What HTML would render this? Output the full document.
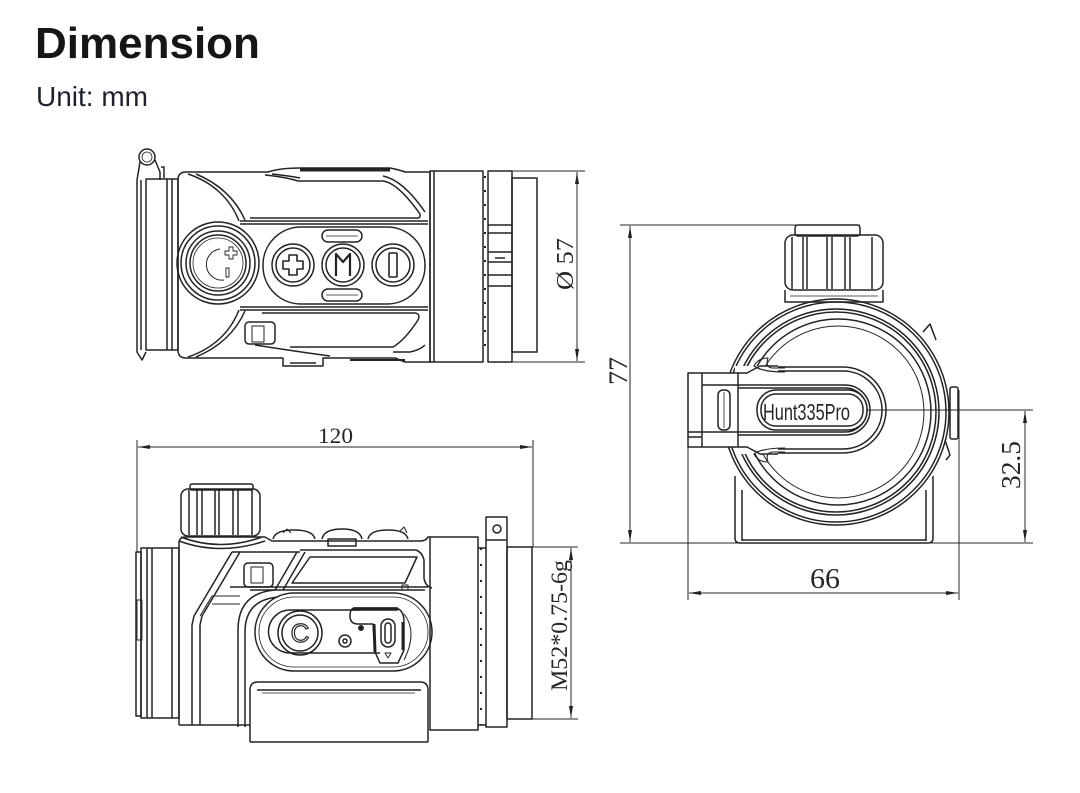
<!DOCTYPE html>
<html><head><meta charset="utf-8"><style>
html,body{margin:0;padding:0;background:#fff;}
body{width:1080px;height:793px;overflow:hidden;position:relative;font-family:"Liberation Sans",sans-serif;}
.t1{position:absolute;left:35px;top:14px;font-size:44px;font-weight:bold;color:#161616;line-height:60px;}
.t2{position:absolute;left:36px;top:80px;font-size:28px;color:#1e2230;line-height:34px;}
svg{position:absolute;left:0;top:0;}
</style></head><body>
<div class="t1">Dimension</div>
<div class="t2">Unit: mm</div>
<svg width="1080" height="793" viewBox="0 0 1080 793" xmlns="http://www.w3.org/2000/svg">
<defs>
<marker id="ar" viewBox="0 0 12 4" refX="12" refY="2" markerWidth="12" markerHeight="4" orient="auto-start-reverse" markerUnits="userSpaceOnUse"><path d="M0,0 L12,2 L0,4 z" fill="#222"/></marker>
</defs>
<g fill="none" stroke="#232323" stroke-width="1.5" stroke-linejoin="round">
<!-- ================= VIEW A (top) ================= -->
<circle cx="147" cy="157" r="8"/>
<circle cx="147" cy="157" r="5" stroke-width="0.8"/>
<path d="M140,162 L137,180 L137,352 L142,360 L146,352"/>
<path d="M141,180 L141,350"/>
<path d="M155,160 L160,172 L160,180"/>
<path d="M161,167 L164,167 L164,178"/>
<rect x="146" y="179" width="32" height="171"/>
<line x1="167" y1="179" x2="167" y2="350"/>
<line x1="172" y1="179" x2="172" y2="350"/>
<!-- body -->
<path d="M178,350 L178,180 Q178,172 186,172 L268,172 Q280,168 300,168 L390,168 Q400,170 405,172 L430,172 L430,362 L405,362 L395,358 L323,358 L323,366 L283,366 L283,358 L186,358 Q178,358 178,350 Z"/>
<path d="M300,170 L390,170" stroke-width="3"/>
<line x1="290" y1="363" x2="316" y2="363"/>
<path d="M350,360 L405,360" stroke-width="2"/>
<!-- upper fairing and groove -->
<path d="M188,174 C212,182 230,198 239,221"/>
<path d="M196,174 C220,184 236,200 245,220"/>
<path d="M265,175 Q285,177 298,181 L383,181 Q398,183 420,214 Q421,219 415,218 L250,218"/>
<path d="M272,174 Q290,176 300,178"/>
<path d="M383,176 Q403,180 425,212"/>
<line x1="240" y1="221" x2="428" y2="221"/>
<line x1="240" y1="224" x2="428" y2="224"/>
<!-- lower fairing and groove -->
<path d="M188,357 C212,349 230,333 239,310"/>
<path d="M196,357 C220,347 236,331 245,311"/>
<line x1="240" y1="307" x2="428" y2="307"/>
<line x1="240" y1="310" x2="428" y2="310"/>
<path d="M262,313 L415,313 Q421,314 418,320 Q405,340 393,347 L290,347"/>
<path d="M255,345 Q300,352 330,356"/>
<path d="M393,352 L410,352 Q420,350 425,345"/>
<rect x="245" y="322" width="30" height="22" rx="4"/>
<rect x="252" y="326" width="12" height="16" stroke-width="1"/>
<!-- buttons oval -->
<rect x="263" y="227" width="162" height="77" rx="38"/>
<rect x="322" y="230" width="40" height="12" rx="6"/>
<line x1="326" y1="236" x2="358" y2="236" stroke-width="0.8"/>
<rect x="322" y="289" width="40" height="12" rx="6"/>
<line x1="326" y1="295" x2="358" y2="295" stroke-width="0.8"/>
<circle cx="293" cy="265" r="21"/><circle cx="293" cy="265" r="17"/>
<circle cx="343" cy="265" r="21"/><circle cx="343" cy="265" r="17"/>
<circle cx="393" cy="265" r="21"/><circle cx="393" cy="265" r="17"/>
<path d="M289,255 h8 v6 h6 v8 h-6 v6 h-8 v-6 h-6 v-8 h6 z" stroke-width="1.6"/>
<path d="M336,276 v-22 l7,8 l7,-8 v22" stroke-width="2.2"/>
<rect x="389" y="253" width="8" height="24" rx="1" stroke-width="1.6"/>
<!-- big knob -->
<circle cx="218" cy="263" r="41"/>
<circle cx="218" cy="263" r="37"/>
<circle cx="218" cy="263" r="32"/>
<circle cx="218" cy="263" r="28"/>
<circle cx="218" cy="263" r="25" stroke-width="0.8"/>
<path d="M220,249 A15,15 0 1 0 224,280" stroke-width="1"/>
<path d="M225,251 h4 v-4 h4 v4 h4 v4 h-4 v4 h-4 v-4 h-4 z" stroke-width="0.9"/>
<rect x="226" y="268" width="3" height="9" stroke-width="0.9"/>
<!-- objective / ring / lens -->
<rect x="430" y="171" width="53" height="191"/>
<line x1="434" y1="171" x2="434" y2="362"/>
<line x1="485" y1="176" x2="485" y2="357" stroke-dasharray="2,12" stroke-width="2"/>
<rect x="488" y="171" width="24" height="191"/>
<line x1="488" y1="225" x2="512" y2="225"/>
<line x1="488" y1="233" x2="512" y2="233"/>
<line x1="488" y1="252" x2="512" y2="252"/>
<line x1="495" y1="258" x2="505" y2="258"/>
<line x1="488" y1="262" x2="512" y2="262"/>
<line x1="488" y1="275" x2="512" y2="275"/>
<line x1="488" y1="286" x2="512" y2="286"/>
<rect x="512" y="178" width="25" height="174"/>
</g>
<!-- dimension A -->
<g stroke="#262626" stroke-width="1" fill="none">
<line x1="512" y1="171" x2="585" y2="171"/>
<line x1="512" y1="362" x2="585" y2="362"/>
<line x1="577" y1="172" x2="577" y2="361" marker-start="url(#ar)" marker-end="url(#ar)"/>
</g>
<text transform="translate(573,290) rotate(-90)" font-family="Liberation Serif, serif" font-size="24" fill="#262626" textLength="52" lengthAdjust="spacingAndGlyphs">Ø 57</text>

<g fill="none" stroke="#232323" stroke-width="1.5" stroke-linejoin="round">
<!-- ================= VIEW B (side) ================= -->
<rect x="136" y="552" width="5" height="164"/>
<rect x="141" y="548" width="38" height="170"/>
<line x1="147" y1="548" x2="147" y2="718"/>
<line x1="152" y1="548" x2="152" y2="718"/>
<line x1="172" y1="548" x2="172" y2="718"/>
<rect x="137" y="600" width="5" height="40" stroke-width="0.9"/>
<!-- knob -->
<rect x="190" y="484" width="63" height="6" rx="2"/>
<rect x="181" y="489" width="79" height="47" rx="7"/>
<line x1="189" y1="490" x2="189" y2="535"/>
<line x1="197" y1="490" x2="197" y2="535"/>
<line x1="202" y1="490" x2="202" y2="535"/>
<line x1="215" y1="490" x2="215" y2="535"/>
<line x1="219" y1="490" x2="219" y2="535"/>
<line x1="233" y1="490" x2="233" y2="535"/>
<line x1="238" y1="490" x2="238" y2="535"/>
<line x1="252" y1="490" x2="252" y2="535"/>
<path d="M181,537 Q220,552 262,537"/>
<path d="M179,541 Q220,556 265,541"/>
<!-- body -->
<path d="M179,725 L179,543 Q179,537 186,537 L265,537 L272,541 L420,541 Q426,541 428,537 L430,537"/>
<path d="M179,725 L250,725"/>
<rect x="430" y="537" width="48" height="193"/>
<!-- top buttons -->
<path d="M273,539 Q275,530 294,530 Q313,530 315,539"/>
<path d="M283,533 L287,529 L291,533" stroke-width="1"/>
<path d="M322,539 Q324,529 342,529 Q360,529 362,539"/>
<rect x="328" y="539" width="28" height="7"/>
<path d="M368,539 Q370,530 388,530 Q406,530 408,539"/>
<path d="M400,531 L404,527 L407,533" stroke-width="1"/>
<!-- rails -->
<path d="M232,552 L194,616 L192,625 L192,725"/>
<path d="M240,552 L202,616 L200,625 L200,725"/>
<path d="M200,616 L212,596 L240,596" stroke-width="1"/>
<line x1="212" y1="604" x2="240" y2="604" stroke-width="1"/>
<line x1="232" y1="552" x2="300" y2="552"/>
<path d="M297,552 L275,590"/>
<path d="M305,552 L283,590"/>
<!-- window -->
<path d="M310,557 L417,557 L405,583 L292,583 Z"/>
<path d="M300,550 L416,550 Q422,552 424,560 L424,578 Q425,586 432,588"/>
<line x1="230" y1="587" x2="428" y2="587"/>
<line x1="250" y1="590" x2="425" y2="590"/>
<rect x="402" y="585" width="6" height="5" stroke-width="1"/>
<rect x="244" y="563" width="29" height="24" rx="4"/>
<rect x="251" y="567" width="12" height="16" stroke-width="1"/>
<!-- panel -->
<path d="M238,727 L238,630 Q238,593 275,590"/>
<path d="M245,727 L245,632 Q245,600 278,597"/>
<rect x="255" y="593" width="177" height="78" rx="39"/>
<rect x="259" y="597" width="169" height="70" rx="35" stroke-width="0.8"/>
<path d="M360,610 L290,610 A21.5,21.5 0 0 0 290,653 L380,653"/>
<circle cx="300" cy="633" r="22"/>
<circle cx="300" cy="633" r="18"/>
<circle cx="345" cy="641" r="6"/>
<circle cx="345" cy="641" r="2"/>
<circle cx="361" cy="628" r="2.2" fill="#232323"/>
<path d="M355,608 L396,608 Q404,610 404,622 L404,650 L398,663 L380,663 L375,652 L373,624 L358,624 Q350,624 350,616 Q350,608 355,608 Z"/>
<path d="M353,609 L398,609" stroke-width="3.5"/>
<line x1="374" y1="624" x2="375" y2="652" stroke-width="3"/>
<line x1="403" y1="622" x2="403" y2="650" stroke-width="3"/>
<rect x="381" y="619" width="14" height="28" rx="7"/>
<rect x="385" y="623" width="6" height="20" rx="3"/>
<path d="M385,653 L391,653 L388,658 Z" stroke-width="0.9"/>
<path d="M404,614 Q418,632 404,660" stroke-width="1"/>
<!-- battery -->
<path d="M250,742 L250,690 Q250,682 258,682 L420,682 Q428,682 428,690 L428,742"/>
<line x1="257" y1="690" x2="421" y2="690"/>
<line x1="262" y1="693" x2="415" y2="693" stroke-width="0.8"/>
<line x1="250" y1="742" x2="428" y2="742"/>
<!-- front -->
<line x1="481" y1="548" x2="481" y2="725" stroke-dasharray="2,14" stroke-width="2"/>
<line x1="478" y1="548" x2="486" y2="548"/>
<line x1="478" y1="725" x2="486" y2="725"/>
<rect x="486" y="517" width="21" height="210"/>
<line x1="486" y1="540" x2="507" y2="540"/>
<circle cx="497" cy="529" r="4"/>
<rect x="507" y="547" width="25" height="172"/>
</g>
<text x="300" y="642" text-anchor="middle" font-family="Liberation Sans, sans-serif" font-size="26" fill="#fff" stroke="#232323" stroke-width="1.2">C</text>
<!-- dims B -->
<g stroke="#262626" stroke-width="1" fill="none">
<line x1="137" y1="440" x2="137" y2="552"/>
<line x1="533" y1="440" x2="533" y2="547"/>
<line x1="138" y1="447" x2="532" y2="447" marker-start="url(#ar)" marker-end="url(#ar)"/>
<line x1="532" y1="547" x2="578" y2="547"/>
<line x1="532" y1="719" x2="578" y2="719"/>
<line x1="571" y1="548" x2="571" y2="718" marker-start="url(#ar)" marker-end="url(#ar)"/>
</g>
<text x="318" y="443" font-family="Liberation Serif, serif" font-size="22" fill="#262626" textLength="35" lengthAdjust="spacingAndGlyphs">120</text>
<text transform="translate(567,691) rotate(-90)" font-family="Liberation Serif, serif" font-size="23" fill="#262626" textLength="131" lengthAdjust="spacingAndGlyphs">M52*0.75-6g</text>

<g fill="none" stroke="#232323" stroke-width="1.5" stroke-linejoin="round">
<!-- ================= VIEW C (front) ================= -->
<rect x="795" y="225" width="65" height="11" rx="3"/>
<rect x="785" y="235" width="98" height="55" rx="8"/>
<line x1="792" y1="237" x2="792" y2="289"/>
<line x1="803" y1="237" x2="803" y2="289"/>
<line x1="807" y1="237" x2="807" y2="289"/>
<line x1="827" y1="237" x2="827" y2="289"/>
<line x1="832" y1="237" x2="832" y2="289"/>
<line x1="845" y1="237" x2="845" y2="289"/>
<line x1="850" y1="237" x2="850" y2="289"/>
<line x1="872" y1="237" x2="872" y2="289"/>
<path d="M785,290 L785,302 L883,302 L883,290"/>
<line x1="790" y1="296" x2="878" y2="296" stroke-width="0.8"/>
<!-- bracket -->
<path d="M735,476 L735,538 Q735,543 740,543 L928,543 Q933,543 933,538 L933,476"/>
<line x1="742" y1="490" x2="742" y2="541"/>
<line x1="926" y1="490" x2="926" y2="541"/>
<line x1="742" y1="540" x2="926" y2="540"/>
<!-- main circles -->
<circle cx="836" cy="412" r="113"/>
<circle cx="836" cy="412" r="110"/>
<circle cx="836" cy="412" r="103"/>
<circle cx="836" cy="412" r="100"/>
<circle cx="838" cy="412" r="93"/>
<circle cx="838" cy="412" r="86" stroke-width="1"/>
<path d="M923,332 L930,324 L936,340" />
<rect x="950" y="387" width="8" height="52" rx="2"/>
<path d="M945,440 L950,455 L946,460"/>
<!-- U tongue (cover white) -->
<path d="M735,366 L843,366 A44,44 0 0 1 843,454 L735,454 Z" fill="#fff" stroke="none"/>
<path d="M778,367 L843,367 A43,43 0 0 1 843,453 L778,453"/>
<path d="M778,371 L843,371 A39,39 0 0 1 843,449 L778,449"/>
<path d="M702,385 L845,385 A25,25 0 0 1 845,435 L702,435"/>
<path d="M702,388 L845,388 A22,22 0 0 1 845,432 L702,432"/>
<!-- decorative flames -->
<path d="M785,368 L772,368 Q765,367 768,358 Q758,358 754,366 Q762,372 785,372" stroke-width="1.1"/>
<path d="M785,452 L772,452 Q765,453 768,462 Q758,462 754,454 Q762,448 785,448" stroke-width="1.1"/>
<!-- lever -->
<rect x="688" y="373" width="50" height="74" fill="#fff"/>
<line x1="702" y1="373" x2="702" y2="447"/>
<line x1="688" y1="432" x2="738" y2="432"/>
<line x1="688" y1="437" x2="702" y2="437"/>
<path d="M738,373 L747,373 L760,366 L778,366"/>
<path d="M738,447 L747,447 L760,454 L778,454"/>
<line x1="738" y1="385" x2="702" y2="385"/>
<rect x="718" y="390" width="12" height="40" rx="5"/>
<line x1="724" y1="392" x2="724" y2="428" stroke-width="0.8"/>
<!-- label -->
<rect x="757" y="390" width="110" height="40" rx="19" fill="#fff"/>
<rect x="761" y="394" width="102" height="32" rx="15"/>
</g>
<text x="763" y="420" font-family="Liberation Sans Narrow, Liberation Sans, sans-serif" font-size="23" fill="#262626" textLength="87" lengthAdjust="spacingAndGlyphs">Hunt335Pro</text>
<!-- dims C -->
<g stroke="#262626" stroke-width="1" fill="none">
<line x1="620" y1="225" x2="860" y2="225"/>
<line x1="620" y1="543" x2="1033" y2="543"/>
<line x1="630" y1="226" x2="630" y2="542" marker-start="url(#ar)" marker-end="url(#ar)"/>
<line x1="867" y1="410" x2="1033" y2="410"/>
<line x1="1025" y1="411" x2="1025" y2="542" marker-start="url(#ar)" marker-end="url(#ar)"/>
<line x1="688" y1="447" x2="688" y2="600"/>
<line x1="959" y1="390" x2="959" y2="600"/>
<line x1="689" y1="593" x2="958" y2="593" marker-start="url(#ar)" marker-end="url(#ar)"/>
</g>
<text transform="translate(627,385) rotate(-90)" font-family="Liberation Serif, serif" font-size="26" fill="#262626" textLength="28" lengthAdjust="spacingAndGlyphs">77</text>
<text transform="translate(1020,489) rotate(-90)" font-family="Liberation Serif, serif" font-size="27" fill="#262626" textLength="48" lengthAdjust="spacingAndGlyphs">32.5</text>
<text x="810" y="588" font-family="Liberation Serif, serif" font-size="28" fill="#262626" textLength="30" lengthAdjust="spacingAndGlyphs">66</text>
</svg>
</body></html>
